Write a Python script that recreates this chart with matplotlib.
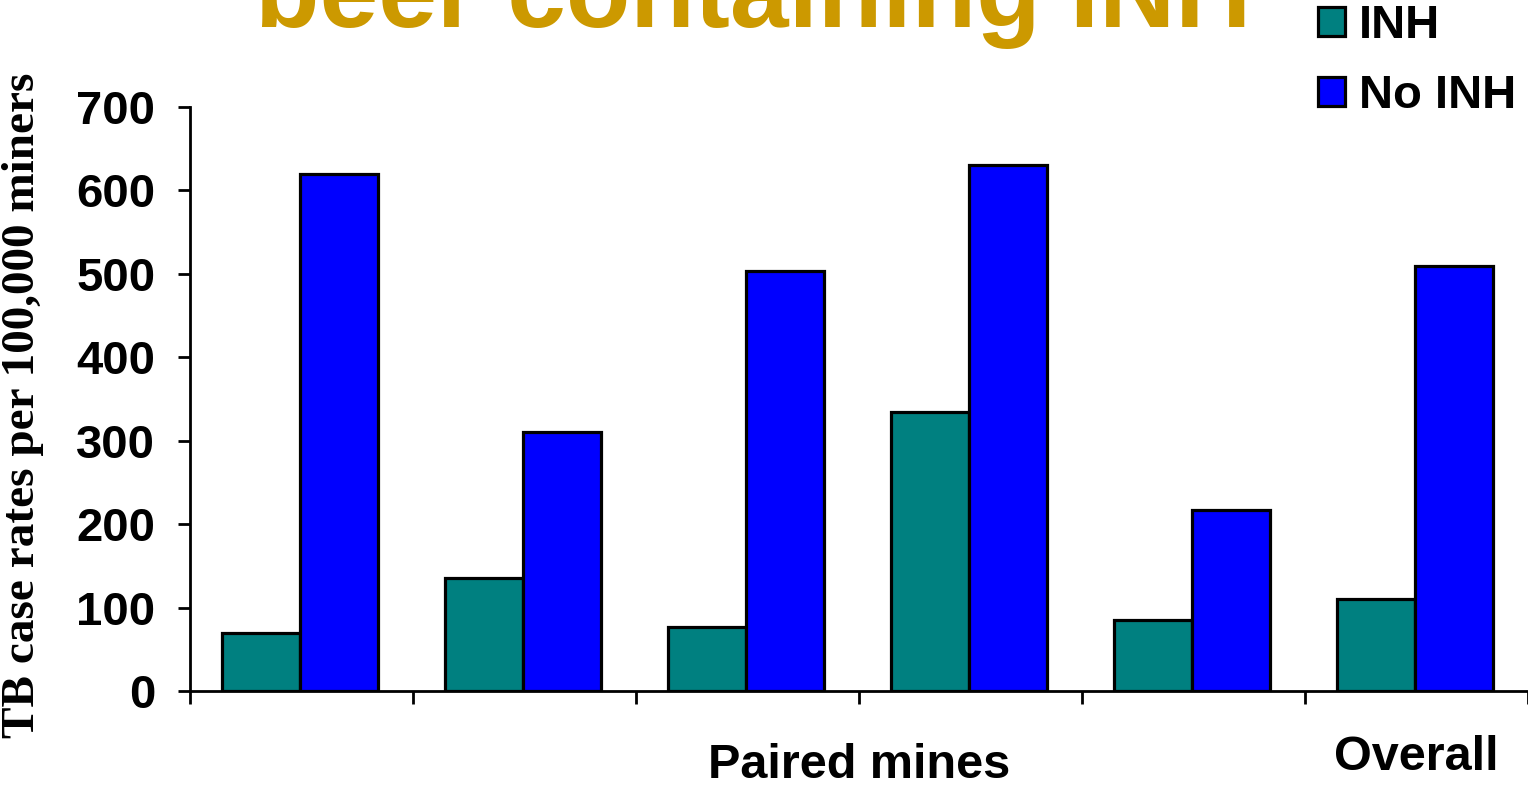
import numpy as np
import matplotlib
matplotlib.use("Agg")
import matplotlib.pyplot as plt

# TB case rates per 100,000 miners, paired mines + overall
groups = ["Mine 1", "Mine 2", "Mine 3", "Mine 4", "Mine 5", "Overall"]
inh = [70, 135, 77, 335, 85, 110]
no_inh = [620, 310, 503, 630, 217, 510]
series_names = ["INH", "No INH"]
yticks = [0, 100, 200, 300, 400, 500, 600, 700]

plt.rcParams['font.family'] = ['Liberation Sans', 'DejaVu Sans']

fig = plt.figure(figsize=(15.28, 7.85), dpi=100)
ax = fig.add_axes([190/1528, 1-691/785, 1-190/1528, (691-107)/785])

x = np.arange(len(groups)) + 0.493
w = 0.35
b1 = ax.bar(x - w/2, inh, w, color="#008080", edgecolor="black", linewidth=2.3, label=series_names[0])
b2 = ax.bar(x + w/2, no_inh, w, color="#0000FF", edgecolor="black", linewidth=2.3, label=series_names[1])

ax.set_xlim(0, len(groups))
ax.set_ylim(0, 700)
ax.set_yticks(yticks)
ax.set_yticklabels([str(v) for v in yticks], fontsize=34, fontweight="bold")
ax.set_xticks(np.arange(len(groups) + 1))
ax.set_xticklabels([])
ax.tick_params(axis="both", direction="out", length=9, width=2)
ax.tick_params(axis="y", pad=16)
for s in ["top", "right"]:
    ax.spines[s].set_visible(False)
for s in ["left", "bottom"]:
    ax.spines[s].set_linewidth(2)

fig.text(23/1528, 1-405/785, "TB case rates per 100,000 miners", rotation=90,
         ha="center", va="center", fontsize=34, fontweight="bold", family="Liberation Serif")

ax.text(3.0, -74/584, "Paired mines", transform=ax.get_xaxis_transform(),
        ha="center", va="center", fontsize=35, fontweight="bold")
ax.text(5.5, -66/584, "Overall", transform=ax.get_xaxis_transform(),
        ha="center", va="center", fontsize=35, fontweight="bold")

fig.text(753/1528, 1-27/785, "beer containing INH", ha="center", va="baseline",
         fontsize=76, fontweight="bold", color="#CC9900")

leg = fig.legend(handles=[b1, b2], loc="upper left", bbox_to_anchor=(1285/1528, 1.037),
                 frameon=False, prop={"size": 34, "weight": "bold"},
                 handlelength=0.57, handleheight=0.57, handletextpad=0.3,
                 labelspacing=0.55, borderpad=0.2)

fig.savefig("out.png", dpi=100)
